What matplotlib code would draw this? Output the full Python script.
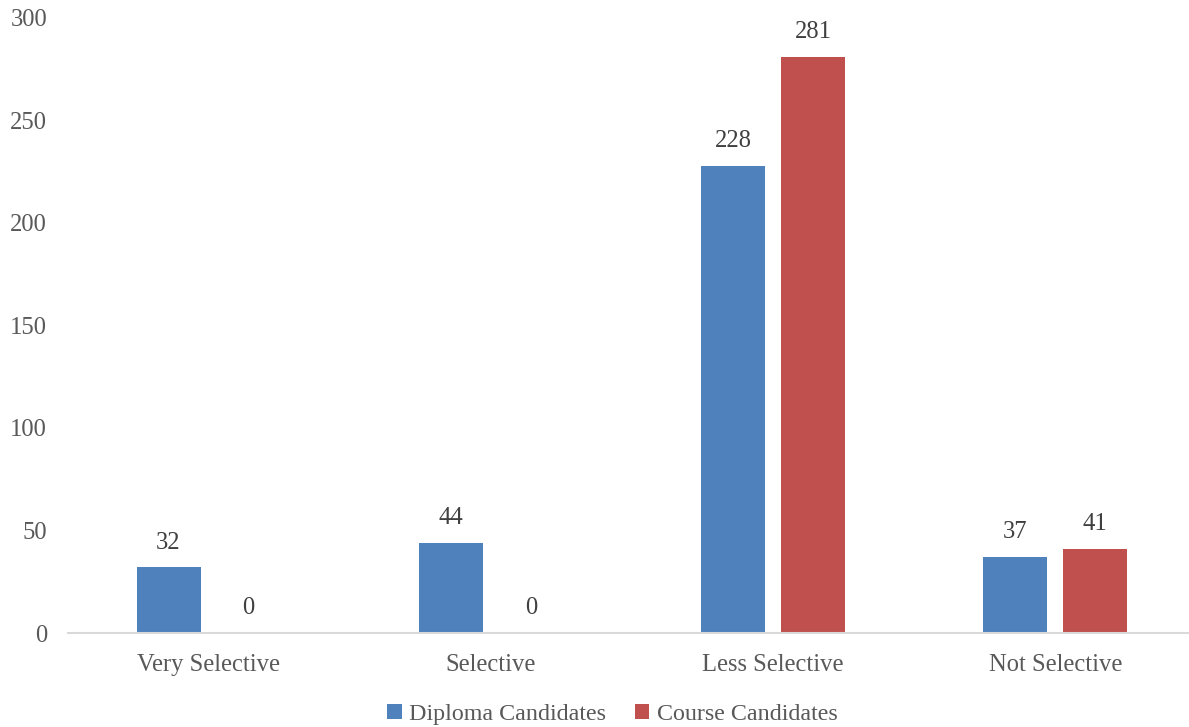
import matplotlib
matplotlib.use("Agg")
import matplotlib.pyplot as plt
import numpy as np

categories = ["Very Selective", "Selective", "Less Selective", "Not Selective"]
diploma = [32, 44, 228, 37]
course = [0, 0, 281, 41]
series_names = ["Diploma Candidates", "Course Candidates"]
yticks = [0, 50, 100, 150, 200, 250, 300]

plt.rcParams['font.family'] = ['Liberation Serif', 'DejaVu Serif']
txt = '#595959'
fs = 17.7

fig = plt.figure(figsize=(11.89, 7.27), dpi=100)
ax = fig.add_axes([68/1189, 1-633/727, (1189-68)/1189, (633-18)/727])

x = np.arange(len(categories))
off = 0.1417
w = 0.227
b1 = ax.bar(x - off, diploma, w, color='#4F81BD', label=series_names[0])
b2 = ax.bar(x + off, course, w, color='#C0504D', label=series_names[1])

for bars, vals in ((b1, diploma), (b2, course)):
    for r, v in zip(bars, vals):
        ax.annotate(str(v), (r.get_x() + r.get_width()/2, v), xytext=(0, 10),
                    textcoords='offset points', ha='center', va='bottom',
                    fontsize=fs, color='#404040')

ax.set_xlim(-0.498, 3.474)
ax.set_ylim(0, 300)
ax.set_yticks(yticks)
ax.set_xticks(x)
ax.set_xticklabels(categories)
for s in ['top', 'right', 'left']:
    ax.spines[s].set_visible(False)
ax.spines['bottom'].set_color('#D9D9D9')
ax.spines['bottom'].set_linewidth(1.5)
ax.tick_params(axis='both', length=0, labelsize=fs, colors=txt)
ax.tick_params(axis='y', pad=15)
ax.tick_params(axis='x', pad=15)

fig.legend(handles=[b1, b2], loc='lower center', bbox_to_anchor=(0.515, -0.027),
           ncol=2, frameon=False, fontsize=17.3, labelcolor=txt,
           handlelength=0.6, handleheight=0.6, handletextpad=0.3, columnspacing=1.2)

fig.savefig('out.png', dpi=100)
